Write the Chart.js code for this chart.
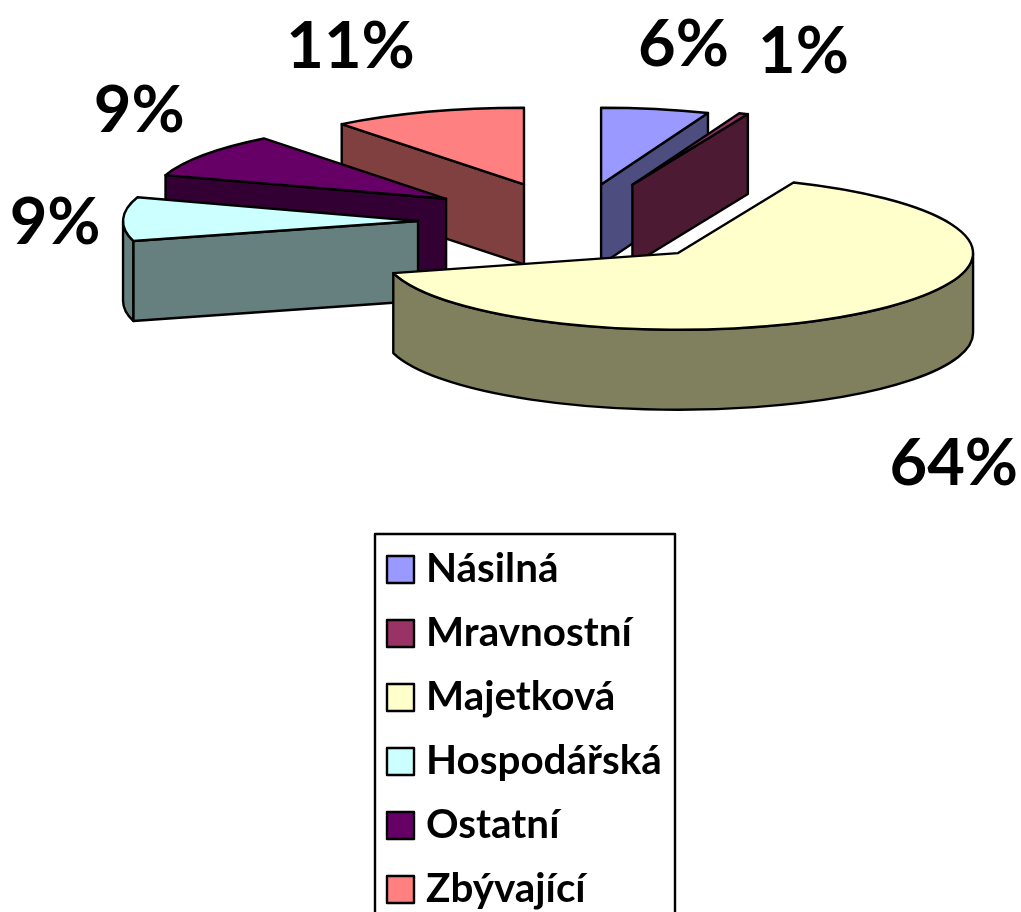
<!DOCTYPE html>
<html>
<head>
<meta charset="utf-8">
<style>
    html, body { margin: 0; padding: 0; background: #fff; overflow: hidden; }
    canvas { display: block; }
</style>
<script src="https://cdn.jsdelivr.net/npm/chart.js@4/dist/chart.umd.js"></script>
</head>
<body>
<canvas id="pie" width="1021" height="912"></canvas>
<script>
// data (labels show the rounded value)
const categories = ["Násilná", "Mravnostní", "Majetková", "Hospodářská", "Ostatní", "Zbývající"];
const shares = [5.9, 0.5, 64.4, 9.2, 9.4, 10.6];
const topColors = ["#9999FF", "#993366", "#FFFFCC", "#CCFFFF", "#660066", "#FF8080"];
const sideColors = ["#4D4D80", "#4D1A33", "#80805F", "#668080", "#330033", "#804040"];

// how far each slice is pulled out of the pie, and label tweaks
const explode = [147, 155, 158.5, 156, 156, 153];
const labelNudge = [[28, -64], [60, -62], [82, 153], [-68, 4], [-65, -44], [-77, -65]];

const squash = 0.26;   // 3D tilt
const depth = 80;      // wall height
const fontFamily = "Lato, 'Liberation Sans', sans-serif";

function sliceParts(arc, i) {
    const p = arc.getProps(["x", "y", "startAngle", "endAngle", "outerRadius"], true);
    const mid = (p.startAngle + p.endAngle) / 2;
    return {
        i: i,
        x: p.x + Math.cos(mid) * explode[i],
        y: p.y + Math.sin(mid) * explode[i] * squash,
        rx: p.outerRadius,
        ry: p.outerRadius * squash,
        start: p.startAngle,
        end: p.endAngle,
        mid: mid
    };
}

function paint(ctx, fill) {
    ctx.fillStyle = fill;
    ctx.fill();
    ctx.stroke();
}

function drawRadialWall(ctx, s, angle) {
    const rimX = s.x + Math.cos(angle) * s.rx;
    const rimY = s.y + Math.sin(angle) * s.ry;
    ctx.beginPath();
    ctx.moveTo(s.x, s.y);
    ctx.lineTo(rimX, rimY);
    ctx.lineTo(rimX, rimY + depth);
    ctx.lineTo(s.x, s.y + depth);
    ctx.closePath();
    paint(ctx, sideColors[s.i]);
}

function drawOuterWall(ctx, s) {
    // only the part of the rim that faces the viewer
    const from = Math.max(s.start, 0);
    const to = Math.min(s.end, Math.PI);
    if (to <= from) return;
    ctx.beginPath();
    ctx.ellipse(s.x, s.y, s.rx, s.ry, 0, from, to);
    ctx.ellipse(s.x, s.y + depth, s.rx, s.ry, 0, to, from, true);
    ctx.closePath();
    paint(ctx, sideColors[s.i]);
}

function drawTop(ctx, s) {
    ctx.beginPath();
    ctx.moveTo(s.x, s.y);
    ctx.ellipse(s.x, s.y, s.rx, s.ry, 0, s.start, s.end);
    ctx.closePath();
    paint(ctx, topColors[s.i]);
}

function drawLegend(ctx) {
    ctx.fillStyle = "#fff";
    ctx.beginPath();
    ctx.rect(375, 534, 300, 400);
    ctx.fill();
    ctx.stroke();
    ctx.font = "bold 40.4px " + fontFamily;
    ctx.textAlign = "left";
    ctx.textBaseline = "middle";
    categories.forEach((name, i) => {
        const rowY = 569 + i * 64;
        ctx.beginPath();
        ctx.rect(387, rowY - 13, 27, 27);
        paint(ctx, topColors[i]);
        ctx.fillStyle = "#000";
        ctx.fillText(name, 426, rowY);
    });
}

const pie3d = {
    id: "pie3d",
    beforeDatasetDraw(chart, args) {
        const ctx = chart.ctx;
        const slices = args.meta.data.map(sliceParts);
        // back to front
        const ordered = slices.slice().sort((a, b) => a.y - b.y);

        ctx.save();
        ctx.strokeStyle = "#000";
        ctx.lineWidth = 2.4;
        ctx.lineJoin = "round";
        ordered.forEach(s => {
            // cut faces, only when they turn toward the viewer
            if (Math.cos(s.start) < -0.001) drawRadialWall(ctx, s, s.start);
            if (Math.cos(s.end) > 0.001) drawRadialWall(ctx, s, s.end);
            drawOuterWall(ctx, s);
            drawTop(ctx, s);
        });

        // percentage labels
        ctx.fillStyle = "#000";
        ctx.font = "bold 65px " + fontFamily;
        ctx.textAlign = "center";
        ctx.textBaseline = "middle";
        slices.forEach(s => {
            const lx = s.x + Math.cos(s.mid) * s.rx + labelNudge[s.i][0];
            const ly = s.y + Math.sin(s.mid) * s.ry + labelNudge[s.i][1];
            ctx.fillText(Math.round(shares[s.i]) + "%", lx, ly);
        });

        drawLegend(ctx);
        ctx.restore();
        return false; // walls and tops are already painted
    }
};

new Chart(document.getElementById("pie").getContext("2d"), {
    type: "pie",
    data: {
        labels: categories,
        datasets: [{
            data: shares,
            backgroundColor: topColors,
            borderColor: "#000",
            borderWidth: 2,
            radius: 295
        }]
    },
    options: {
        responsive: false,
        animation: false,
        layout: { padding: { left: 127, bottom: 468 } },
        plugins: {
            tooltip: { enabled: false },
            legend: { display: false }
        }
    },
    plugins: [pie3d]
});
</script>
</body>
</html>
